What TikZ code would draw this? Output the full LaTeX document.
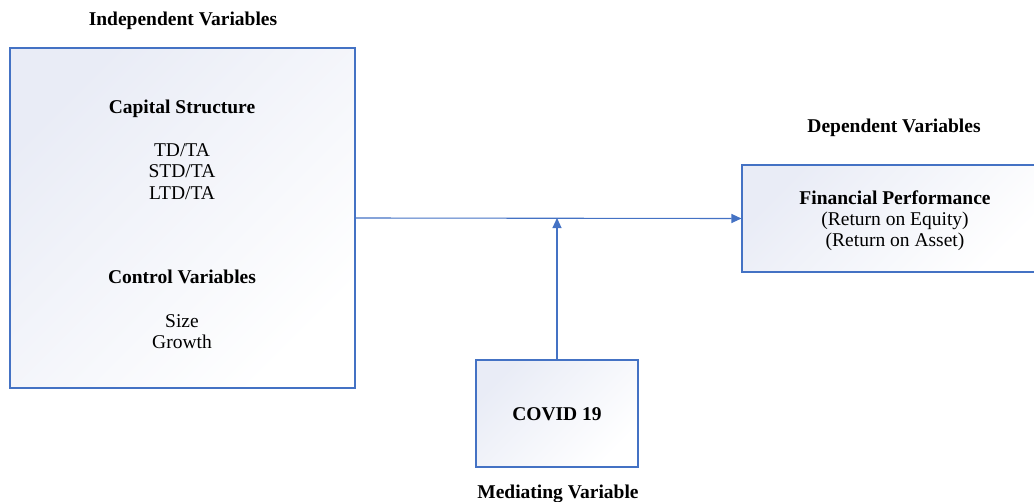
\documentclass[tikz,border=0pt]{standalone}
\usepackage{fontspec}
\setmainfont{Liberation Serif}
\usetikzlibrary{arrows.meta}
\definecolor{lineblue}{HTML}{4472C4}
\definecolor{gradtop}{HTML}{E9ECF6}
\begin{document}
\begin{tikzpicture}[x=1pt,y=-1pt,
  box/.style={draw=lineblue, line width=1.1pt, top color=gradtop, bottom color=white, shading angle=45, inner sep=0pt},
  conn/.style={draw=lineblue, line width=1.1pt},
  tip/.style={-{Triangle[length=10pt,width=9pt]}},
  txt/.style={inner sep=0pt, anchor=base, font=\fontsize{19.5}{21.7}\selectfont},
  btxt/.style={txt, font=\fontsize{19.5}{21.7}\selectfont\bfseries}]
\useasboundingbox (0,0) rectangle (1034,501);
\clip (0,0) rectangle (1034,501);
% boxes
\node[box, minimum width=345pt, minimum height=340pt] (lb) at (182.5,218) {};
\node[box, minimum width=300pt, minimum height=107pt] (rb) at (892,218.5) {};
\node[box, minimum width=162pt, minimum height=107pt] (cb) at (557,413.5) {};
% titles
\node[btxt] (t1) at (183,25) {Independent Variables};
\node[btxt] (t2) at (894,132) {Dependent Variables};
\node[btxt] (t3) at (558,498) {Mediating Variable};
% left box text
\node[btxt] (cs) at (182,113) {Capital Structure};
\node[txt] (a1) at (182,156) {TD/TA};
\node[txt] (a2) at (182,177.5) {STD/TA};
\node[txt] (a3) at (182,199) {LTD/TA};
\node[btxt] (cv) at (182,283) {Control Variables};
\node[txt] (c1) at (182,327) {Size};
\node[txt] (c2) at (182,348.5) {Growth};
% right box text
\node[btxt] (fp) at (895,204) {Financial Performance};
\node[txt] (r1) at (895,225.5) {(Return on Equity)};
\node[txt] (r2) at (895,246.5) {(Return on Asset)};
% covid
\node[btxt] (cov) at (557,420) {COVID 19};
% connectors
\draw[conn, tip] (lb.east) -- (rb.west);
\coordinate (j) at (cb.north |- lb.east);
\draw[conn, tip] (cb.north) -- (j);
\end{tikzpicture}
\end{document}
